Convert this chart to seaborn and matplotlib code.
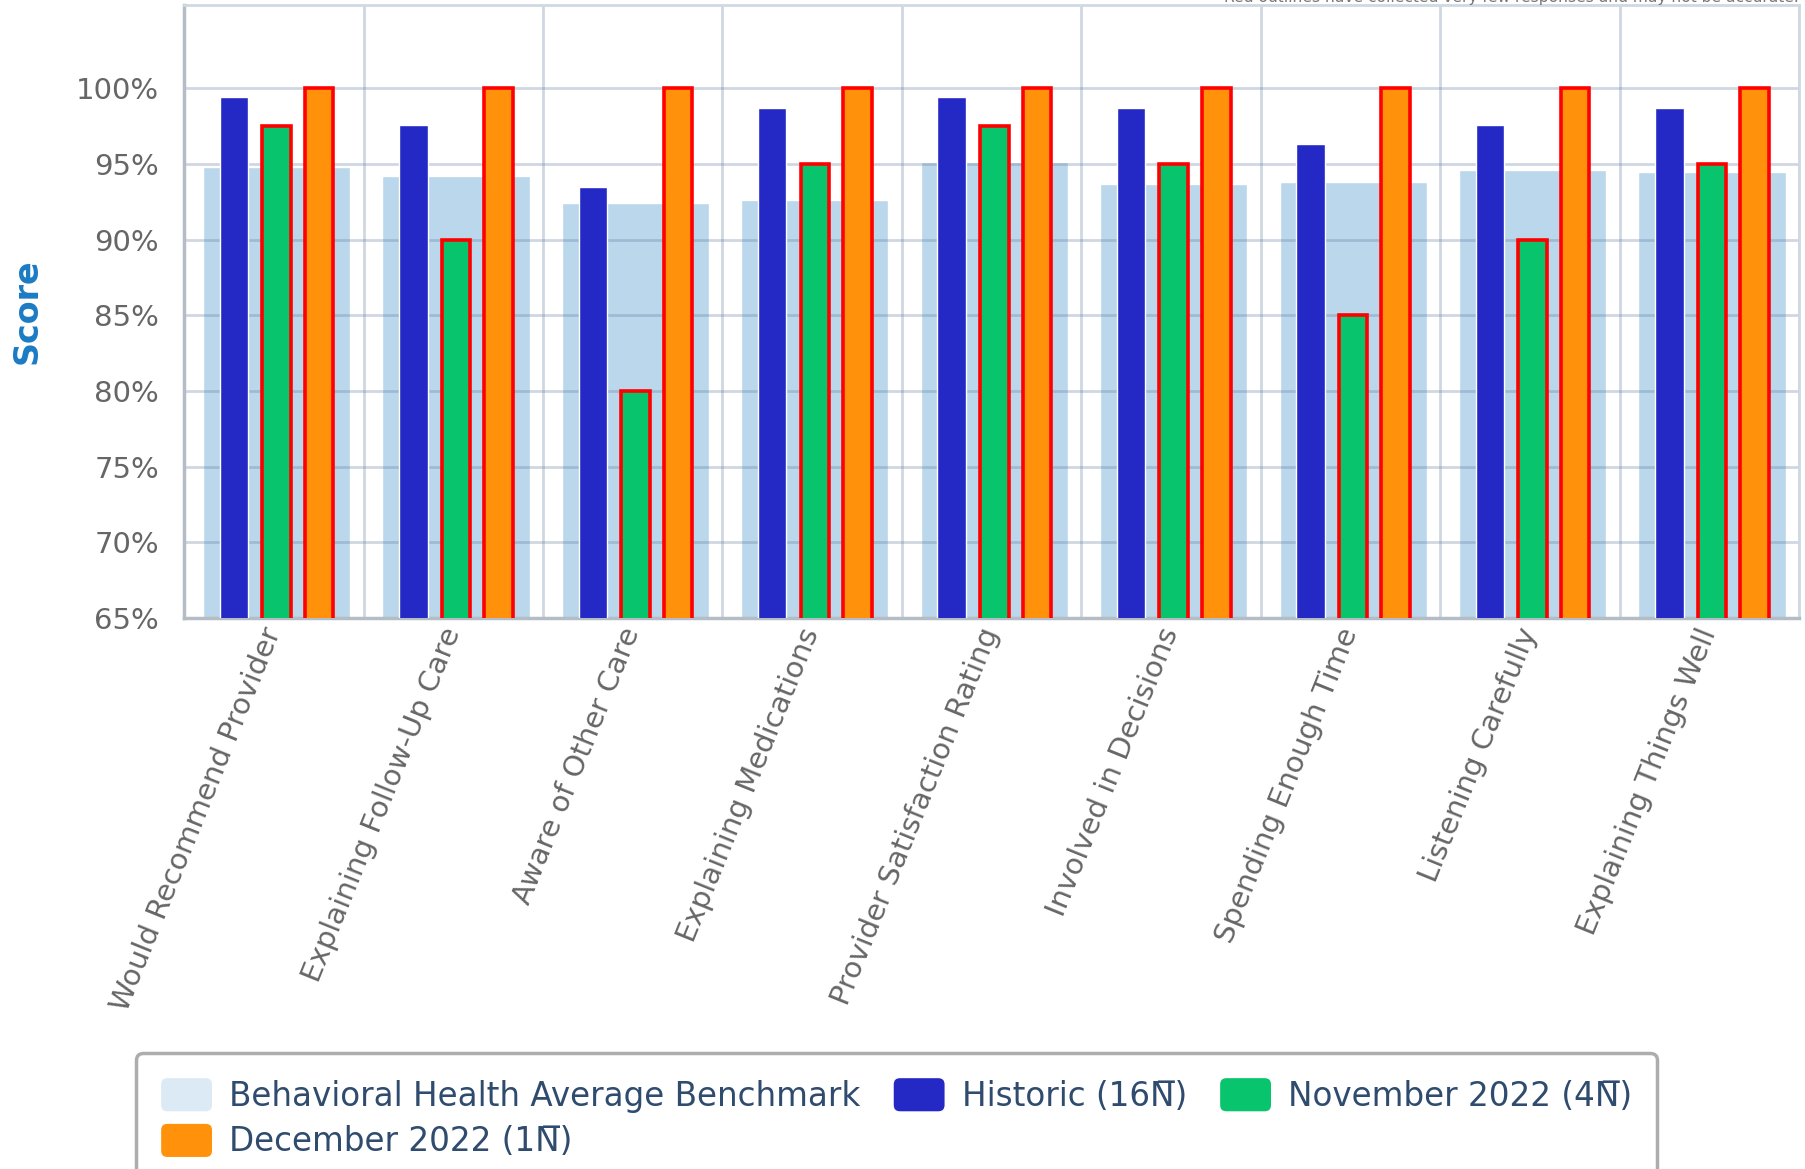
import numpy as np
import pandas as pd
import seaborn as sns
import matplotlib.pyplot as plt
from matplotlib.patches import Patch, FancyBboxPatch
from matplotlib.legend_handler import HandlerPatch
from matplotlib.colors import to_hex

#%% data
categories = ['Would Recommend Provider', 'Explaining Follow-Up Care', 'Aware of Other Care',
              'Explaining Medications', 'Provider Satisfaction Rating', 'Involved in Decisions',
              'Spending Enough Time', 'Listening Carefully', 'Explaining Things Well']
benchmark = [94.8, 94.2, 92.4, 92.6, 95.1, 93.7, 93.8, 94.6, 94.5]
historic = [99.4, 97.6, 93.5, 98.7, 99.4, 98.7, 96.3, 97.6, 98.7]
nov_2022 = [97.5, 90, 80, 95, 97.5, 95, 85, 90, 95]
dec_2022 = [100, 100, 100, 100, 100, 100, 100, 100, 100]

series_names = ['Historic (16N\u0305)', 'November 2022 (4N\u0305)', 'December 2022 (1N\u0305)']
bench_name = 'Behavioral Health Average Benchmark'
yticks = [65, 70, 75, 80, 85, 90, 95, 100]

col_bench = '#bad7eb'
col_hist = '#2429c6'
col_nov = '#08c46c'
col_dec = '#ff920a'
col_grid = '#627d9e'

#%% frames
df_bench = pd.DataFrame({'cat': categories, 'value': benchmark})
df_series = pd.concat([
    pd.DataFrame({'cat': categories, 'value': historic, 'series': series_names[0]}),
    pd.DataFrame({'cat': categories, 'value': nov_2022, 'series': series_names[1]}),
    pd.DataFrame({'cat': categories, 'value': dec_2022, 'series': series_names[2]}),
])

#%% plot
sns.set_style('white')
plt.rcParams['font.family'] = ['DejaVu Sans']

fig = plt.figure(figsize=(18.05, 11.69), dpi=100)
ax = fig.add_axes([0.102, 0.4713, 0.8947, 0.5244])

sns.barplot(data=df_bench, x='cat', y='value', color=col_bench, width=0.82,
            saturation=1, ax=ax, zorder=1)
sns.barplot(data=df_series, x='cat', y='value', hue='series', hue_order=series_names,
            palette=[col_hist, col_nov, col_dec], width=0.7125, gap=0.33,
            saturation=1, ax=ax, legend=False, zorder=3)

# groups sit a touch right of the category centre in the original
for p in ax.patches:
    p.set_x(p.get_x() + 0.015)
    # red outline on the low-response series
    if to_hex(p.get_facecolor()) in (col_nov, col_dec):
        p.set_edgecolor('#ff0000')
        p.set_linewidth(2.6)

ax.set_xlim(-0.5, len(categories) - 0.5)
ax.set_ylim(65, 105.5)
ax.set_yticks(yticks)
ax.set_yticklabels([f'{v}%' for v in yticks])
ax.set_xticks(np.arange(-0.5, len(categories), 1), minor=True)

ax.set_axisbelow('line')
ax.grid(axis='y', which='major', color=col_grid, alpha=0.3, linewidth=2)
ax.grid(axis='x', which='minor', color=col_grid, alpha=0.3, linewidth=2)
ax.grid(axis='x', which='major', visible=False)

ax.tick_params(axis='y', length=0, pad=18, labelsize=21, labelcolor='#666666')
ax.tick_params(axis='x', which='major', length=0, pad=8, labelsize=21, labelcolor='#666666')
ax.tick_params(axis='x', which='minor', length=9, width=2, color='#d0d8e2')
plt.setp(ax.get_xticklabels(), rotation=68, ha='right', va='center', rotation_mode='anchor')

for s in ['left', 'bottom']:
    ax.spines[s].set_color('#b4bcc6')
    ax.spines[s].set_linewidth(2.5)
for s in ['top', 'right']:
    ax.spines[s].set_color('#d0d8e2')
    ax.spines[s].set_linewidth(2)

ax.set_xlabel('')
ax.set_ylabel('Score', fontsize=24, fontweight='bold', color='#1a7bc4')
ax.yaxis.set_label_coords(-0.087, 0.5)

# note at the top edge, cut off as in the original
fig.text(0.9967, 1 - 2 / 1169, 'Red outlines have collected very few responses and may not be accurate.',
         ha='right', va='baseline', fontsize=11.2, color='#777777')


def rounded_swatch(legend, orig_handle, xdescent, ydescent, width, height, fontsize):
    return FancyBboxPatch((-xdescent, -ydescent), width, height,
                          boxstyle='round,pad=0,rounding_size=5',
                          facecolor=orig_handle.get_facecolor(), edgecolor='none')


handles = [Patch(facecolor='#dbeaf5', label=bench_name),
           Patch(facecolor=col_dec, label=series_names[2]),
           Patch(facecolor=col_hist, label=series_names[0]),
           Patch(facecolor=col_nov, label=series_names[1])]
leg = fig.legend(handles=handles, loc='upper left', bbox_to_anchor=(136 / 1805, 1 - 1053 / 1169),
                 ncol=3, frameon=True, fancybox=True, fontsize=23.5, labelcolor='#2f4b6e',
                 handlelength=1.6, handleheight=1.25, handletextpad=0.5, columnspacing=1.0,
                 labelspacing=0.32, borderpad=0.75, borderaxespad=0,
                 handler_map={Patch: HandlerPatch(patch_func=rounded_swatch)})
leg.get_frame().set_edgecolor('#999999')
leg.get_frame().set_linewidth(2.5)

fig.savefig('out.png', dpi=100)
